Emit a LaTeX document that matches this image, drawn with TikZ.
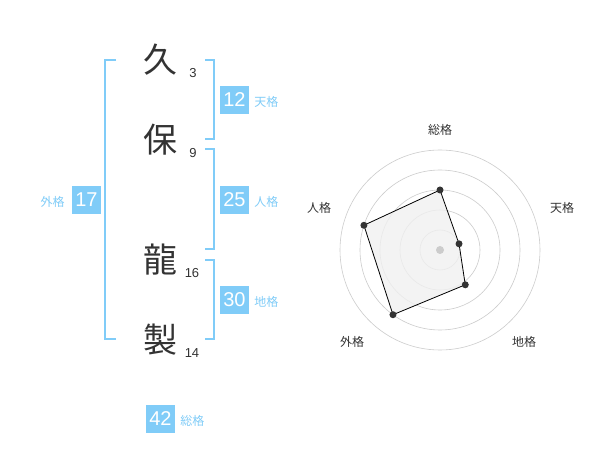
\documentclass[tikz,border=0pt]{standalone}
\usepackage{fontspec}
\setmainfont{Liberation Sans}
\newfontfamily\jpfont{Noto Sans CJK JP}
\usetikzlibrary{positioning}
\definecolor{kakublue}{HTML}{80CCF8}
\definecolor{inkgray}{HTML}{333333}
\definecolor{ringgray}{HTML}{CCCCCC}
\definecolor{areagray}{HTML}{F0F0F0}

\begin{document}
\begin{tikzpicture}[x=1pt, y=-1pt]
    \tikzstyle{kanji}=[font=\jpfont\fontsize{34}{34}\selectfont, text=inkgray, inner sep=0]
    \tikzstyle{kakusu}=[font=\fontsize{13}{13}\selectfont, text=inkgray, inner sep=0]
    \tikzstyle{numbox}=[fill=kakublue, text=white, minimum width=29pt, minimum height=28pt, inner sep=0, font=\fontsize{20}{20}\selectfont]
    \tikzstyle{kaku}=[font=\jpfont\fontsize{12}{12}\selectfont, text=kakublue, inner sep=0]
    \tikzstyle{bracket}=[draw=kakublue, line width=2pt]
    \tikzstyle{ring}=[draw=ringgray, line width=0.6pt]
    \tikzstyle{axis}=[font=\jpfont\fontsize{12}{12}\selectfont, text=inkgray, inner sep=0]
    \tikzstyle{dot}=[circle, fill=inkgray, inner sep=0, minimum size=7pt]

      \useasboundingbox[fill=white] (0,0) rectangle (600,470);

      % name
      \node[kanji] (ku) at (160,60) {久};
      \node[kanji] (ho) at (160,140) {保};
      \node[kanji] (ryu) at (160,260) {龍};
      \node[kanji] (sei) at (160,340) {製};
      \node[kakusu] (kaku1) at (193,73) {3};
      \node[kakusu] (kaku2) at (193,153) {9};
      \node[kakusu] (kaku3) at (192,273) {16};
      \node[kakusu] (kaku4) at (192,353) {14};

      % brackets
      \draw[bracket] (116,60) -| (105,339) -- (116,339);
      \draw[bracket] (205,60) -| (214,139) -- (205,139);
      \draw[bracket] (205,149) -| (214,249) -- (205,249);
      \draw[bracket] (205,260) -| (214,339) -- (205,339);

      \node[numbox] (ten) at (234.5,100) {12};
      \node[kaku] (tenlabel) [right=5pt of ten, yshift=-2pt] {天格};
      \node[numbox] (jin) at (234.5,200) {25};
      \node[kaku] (jinlabel) [right=5pt of jin, yshift=-2pt] {人格};
      \node[numbox] (chi) at (234.5,300) {30};
      \node[kaku] (chilabel) [right=5pt of chi, yshift=-2pt] {地格};
      \node[numbox] (gai) at (86.5,200) {17};
      \node[kaku] (gailabel) [left=7pt of gai, yshift=-2pt] {外格};
      \node[numbox] (sou) at (160.5,419) {42};
      \node[kaku] (soulabel) [right=5pt of sou, yshift=-2pt] {総格};

      % radar
      \coordinate (c) at (440,250);
      \foreach \r in {20,40,...,100}
        \draw[ring] (c) circle (\r pt);
      \coordinate (psou) at ([shift={(90:60pt)}]c);
      \coordinate (pten) at ([shift={(18:20pt)}]c);
      \coordinate (pchi) at ([shift={(-54:43pt)}]c);
      \coordinate (pgai) at ([shift={(234:80pt)}]c);
      \coordinate (pjin) at ([shift={(162:80pt)}]c);
      \draw[fill=areagray, fill opacity=0.8, draw=black, line width=0.8pt] (psou) -- (pten) -- (pchi) -- (pgai) -- (pjin) -- cycle;
      \node[circle, fill=ringgray, inner sep=0, minimum size=8pt] (center) at (c) {};
      \foreach \p in {psou,pten,pchi,pgai,pjin}
        \node[dot] at (\p) {};
      \node[axis] (asou) at (440,130) {総格};
      \node[axis] (aten) at (562,208) {天格};
      \node[axis] (achi) at (524,342) {地格};
      \node[axis] (agai) at (352,342) {外格};
      \node[axis] (ajin) at (319,208) {人格};
    \end{tikzpicture}
\end{document}
